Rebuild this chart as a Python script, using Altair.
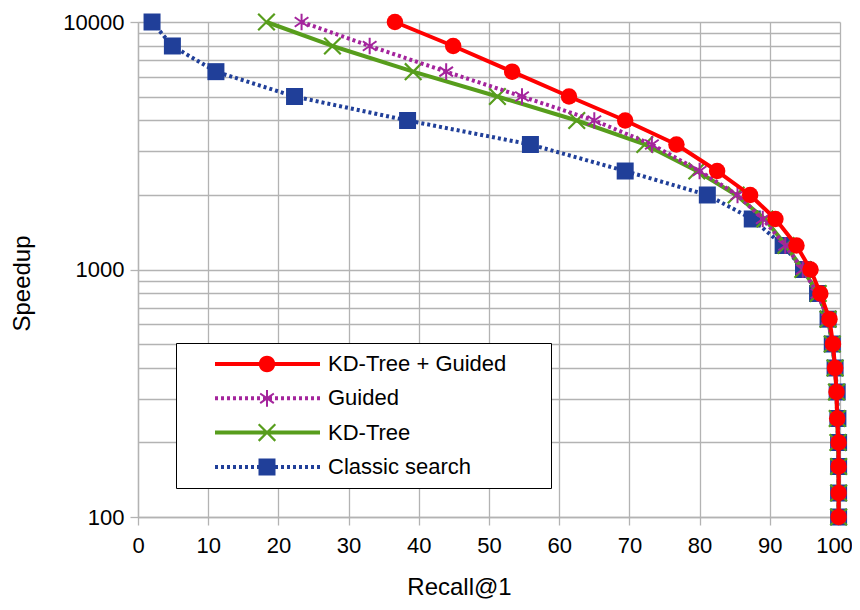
import math
import altair as alt
import pandas as pd

# ---------------- data ----------------
SPEEDUP = [10000, 8000, 6300, 5000, 4000, 3200, 2500, 2000, 1600, 1250, 1000,
           800, 630, 500, 400, 320, 250, 200, 160, 125, 100]
KD_GUIDED = [36.6, 44.9, 53.3, 61.4, 69.4, 76.7, 82.5, 87.2, 90.8, 93.8, 95.8,
             97.2, 98.5, 99.0, 99.3, 99.5, 99.6, 99.8, 99.8, 99.8, 99.8]
GUIDED = [23.3, 33.0, 43.9, 54.7, 65.0, 73.2, 80.0, 85.4, 89.0, 92.2, 94.7,
          96.8, 98.3, 98.9, 99.3, 99.5, 99.6, 99.7, 99.8, 99.8, 99.8]
KD_TREE = [18.3, 27.7, 39.2, 51.2, 62.5, 72.2, 79.6, 85.2, 89.3, 92.3, 94.7,
           96.9, 98.3, 98.9, 99.3, 99.5, 99.6, 99.7, 99.8, 99.8, 99.8]
CLASSIC = [2.0, 4.9, 11.1, 22.3, 38.4, 55.9, 69.4, 81.1, 87.5, 91.9, 94.8,
           96.8, 98.3, 98.9, 99.3, 99.6, 99.7, 99.8, 99.8, 99.8, 99.8]
SERIES = ["KD-Tree + Guided", "Guided", "KD-Tree", "Classic search"]
X_TICKS = list(range(0, 101, 10))
Y_MAJOR = [100, 1000, 10000]

VALUES = {"KD-Tree + Guided": KD_GUIDED, "Guided": GUIDED,
          "KD-Tree": KD_TREE, "Classic search": CLASSIC}

rows = []
for s in SERIES:
    for i, (r, sp) in enumerate(zip(VALUES[s], SPEEDUP)):
        rows.append({"series": s, "recall": r, "speedup": sp, "idx": i})
df = pd.DataFrame(rows)

# ---------------- styles ----------------
COLORS = {"KD-Tree + Guided": "#ff0000", "Guided": "#a4249c",
          "KD-Tree": "#579d1c", "Classic search": "#203f99"}
DASHES = {"KD-Tree + Guided": None, "Guided": [3, 3],
          "KD-Tree": None, "Classic search": [3, 3]}
Y_GRID = [m * 10 ** e for e in (2, 3) for m in range(1, 10)] + [10000]


def fmt(v):
    return f"{v:.3f}"


def poly(pts):
    return "M" + "L".join(f"{fmt(x)},{fmt(y)}" for x, y in pts) + "Z"


def rect(x0, x1, y0, y1):
    return poly([(x0, y0), (x1, y0), (x1, y1), (x0, y1)])


def bar(cx, cy, ang, hl, ht):
    a = math.radians(ang)
    ux, uy = math.cos(a), math.sin(a)
    nx, ny = -uy, ux
    loc = [(-hl, -ht), (hl, -ht), (hl, ht), (-hl, ht)]
    return poly([(cx + p * ux + q * nx, cy + p * uy + q * ny) for p, q in loc])


def circ(cx, cy, r, n=28):
    return poly([(cx + r * math.cos(2 * math.pi * k / n),
                  cy + r * math.sin(2 * math.pi * k / n)) for k in range(n)])


U = 8.5  # px per path unit for size 289


def star(cx, cy):
    t = 1.0 / U
    return "".join(bar(cx, cy, a, 0.98, t) for a in (90, 35, -35))


def xmark(cx, cy):
    t = 1.1 / U
    return "".join(bar(cx, cy, a, 1.38, t) for a in (45, -45))


# legend symbol: line segment + marker, offset to the right
LX0, LX1, LM = 18 / U, 123 / U, 70 / U
HT = 2.0 / U
PAD_RIGHT = "M" + fmt(343 / U) + ",0"   # invisible point widening the legend box


def solid_line():
    return rect(LX0, LX1, -HT, HT)


def dotted_line():
    out = []
    x = LX0
    d = 3 / U
    while x + d <= LX1 + 1e-6:
        out.append(rect(x, x + d, -HT, HT))
        x += 2 * d
    return "".join(out)


LEGEND_PATHS = [
    solid_line() + circ(LM, 0, 8.25 / U) + PAD_RIGHT,
    dotted_line() + star(LM, 0) + PAD_RIGHT,
    solid_line() + xmark(LM, 0) + PAD_RIGHT,
    dotted_line() + rect(LM - 8.5 / U, LM + 8.5 / U, -8.5 / U, 8.5 / U) + PAD_RIGHT,
]
MARKERS = {
    "KD-Tree + Guided": ("circle", 272),
    "Guided": (star(0, 0), 289),
    "KD-Tree": (xmark(0, 0), 289),
    "Classic search": ("square", 289),
}

FONT = "Liberation Sans"
MAJOR_TEST = "datum.value == 100 || datum.value == 1000 || datum.value == 10000"

x_enc = alt.X(
    "recall:Q",
    scale=alt.Scale(domain=[0, 100], nice=False),
    axis=alt.Axis(values=X_TICKS, format="d", title="Recall@1", tickSize=8,
                  labelPadding=10, labelFlush=False, labelOverlap=False,
                  labelOffset={"condition": {"test": "datum.value == 100", "value": -6}, "value": 0},
                  titleX=321, titleY=82, titleAnchor="start",
                  titleAlign="center", titleBaseline="bottom"),
)
y_enc = alt.Y(
    "speedup:Q",
    scale=alt.Scale(type="log", domain=[100, 10000], nice=False),
    axis=alt.Axis(values=Y_GRID, format="d", title="Speedup", tickSize=8,
                  labelPadding=6, labelFlush=False, labelOverlap=False,
                  labelExpr=f"({MAJOR_TEST}) ? datum.label : ''",
                  tickOpacity={"condition": {"test": MAJOR_TEST, "value": 1}, "value": 0},
                  titleX=-104, titleY=261, titleAngle=270,
                  titleAlign="center", titleBaseline="bottom"),
)

layers = []
for s in ["Classic search", "KD-Tree", "Guided", "KD-Tree + Guided"]:
    base = alt.Chart(df).transform_filter(alt.datum.series == s)
    lk = dict(color=COLORS[s], strokeWidth=4, strokeCap="butt", strokeJoin="round")
    if DASHES[s]:
        lk["strokeDash"] = DASHES[s]
    layers.append(base.mark_line(**lk).encode(x=x_enc, y=y_enc, order="idx:Q"))
    shp, sz = MARKERS[s]
    layers.append(base.mark_point(filled=True, opacity=1, strokeWidth=0,
                                  shape=shp, size=sz, color=COLORS[s])
                  .encode(x=x_enc, y=y_enc))

leg = alt.Legend(title=None, orient="none", legendX=38, legendY=321,
                 padding=10, fillColor="white", strokeColor="black",
                 labelFont=FONT, labelFontSize=22, labelColor="black",
                 labelLimit=500, labelOffset=120, symbolOffset=0,
                 symbolSize=289, symbolStrokeWidth=0, symbolOpacity=1,
                 rowPadding=12.3)
legend_layer = alt.Chart(df).transform_filter("false").mark_point(
    filled=True, opacity=1, strokeWidth=0
).encode(
    color=alt.Color("series:N", scale=alt.Scale(domain=SERIES, range=[COLORS[s] for s in SERIES]), legend=leg),
    shape=alt.Shape("series:N", scale=alt.Scale(domain=SERIES, range=LEGEND_PATHS), legend=leg),
)

chart = alt.layer(*layers, legend_layer).properties(
    width=702, height=495,
    autosize=alt.AutoSizeParams(type="none"),
    padding={"left": 130, "top": 14, "right": 12, "bottom": 84},
).configure_view(stroke=None).configure_axis(
    gridColor="#b3b3b3", gridWidth=1.3, domainColor="#b3b3b3",
    tickColor="#b3b3b3", tickWidth=1.3, domainWidth=1.3,
    labelFont=FONT, labelFontSize=22, labelColor="black",
    titleFont=FONT, titleFontSize=24, titleFontWeight="normal", titleColor="black",
)

chart.save("out.html", embed_options={"renderer": "svg", "actions": False})
